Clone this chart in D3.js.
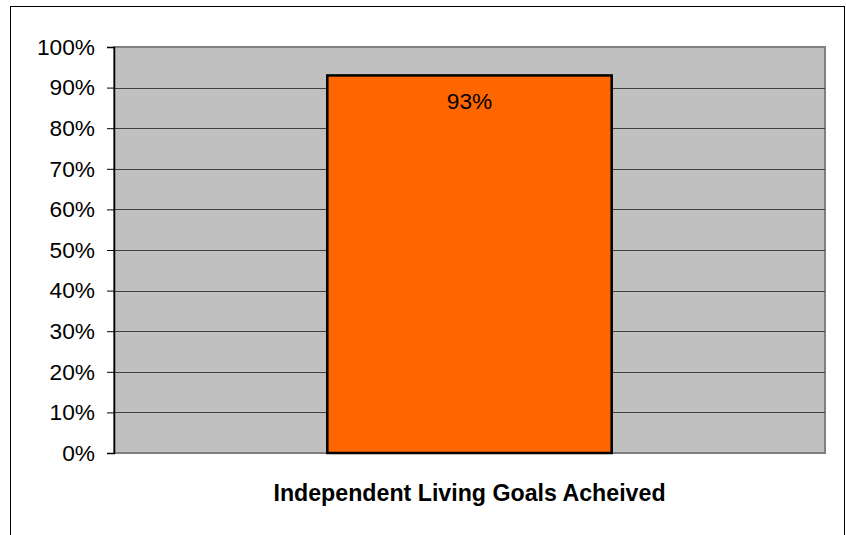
<!DOCTYPE html>
<html>
<head>
<meta charset="utf-8">
<script src="https://cdn.jsdelivr.net/npm/d3@7"></script>
<style>
html,body{margin:0;padding:0;background:#fff;}
svg{display:block;}
text{font-family:"Liberation Sans",Arial,sans-serif;}
</style>
</head>
<body>
<svg id="chart" width="846" height="535"></svg>
<script>
const categories = ["Independent Living Goals Acheived"];
const values = [0.93];
const valueLabels = ["93%"];
const yTicks = [0,0.1,0.2,0.3,0.4,0.5,0.6,0.7,0.8,0.9,1.0];

const svg = d3.select("#chart");
const W = 846, H = 535;
const plot = {left:114, top:47, right:825, bottom:453};
const FS = 22.7;

// outer frame
svg.append("rect").attr("x",10.5).attr("y",6.5).attr("width",834).attr("height",560)
  .attr("fill","#fff").attr("stroke","#000").attr("stroke-width",1);

const x = d3.scaleBand().domain(categories).range([plot.left, plot.right])
  .paddingInner(0.6).paddingOuter(0.3);
const y = d3.scaleLinear().domain([0,1]).range([plot.bottom, plot.top]);

// plot area
svg.append("rect").attr("x",plot.left).attr("y",plot.top)
  .attr("width",plot.right-plot.left).attr("height",plot.bottom-plot.top)
  .attr("fill","#C0C0C0").attr("stroke","#808080").attr("stroke-width",2);

// gridlines
svg.append("g").selectAll("line").data(yTicks.filter(d=>d>0 && d<1)).join("line")
  .attr("x1",plot.left).attr("x2",plot.right)
  .attr("y1",d=>Math.round(y(d))+0.5).attr("y2",d=>Math.round(y(d))+0.5)
  .attr("stroke","#404040").attr("stroke-width",1);

// y axis
const yAxis = d3.axisLeft(y).tickValues(yTicks).tickFormat(d3.format(".0%")).tickSize(7).tickPadding(12);
const gy = svg.append("g").attr("transform",`translate(${plot.left},0)`).call(yAxis);
gy.select(".domain").attr("stroke","#000").attr("stroke-width",1.5);
gy.selectAll(".tick line").attr("stroke","#000");
gy.selectAll(".tick text").attr("font-size",FS).attr("fill","#000")
  .attr("font-family","\"Liberation Sans\",Arial,sans-serif");

// bars
svg.append("g").selectAll("rect").data(categories).join("rect")
  .attr("x",d=>x(d)).attr("width",x.bandwidth())
  .attr("y",(d,i)=>y(values[i])).attr("height",(d,i)=>y(0)-y(values[i]))
  .attr("fill","#FF6600").attr("stroke","#000").attr("stroke-width",2.5);

// value labels
svg.append("g").selectAll("text").data(categories).join("text")
  .attr("x",d=>x(d)+x.bandwidth()/2).attr("y",(d,i)=>y(values[i])+34)
  .attr("text-anchor","middle").attr("font-size",FS).attr("fill","#000")
  .text((d,i)=>valueLabels[i]);

// x axis category label
svg.append("g").selectAll("text").data(categories).join("text")
  .attr("x",d=>x(d)+x.bandwidth()/2).attr("y",501)
  .attr("text-anchor","middle").attr("font-size",23.2).attr("font-weight","bold").attr("fill","#000")
  .text(d=>d);
</script>
</body>
</html>
